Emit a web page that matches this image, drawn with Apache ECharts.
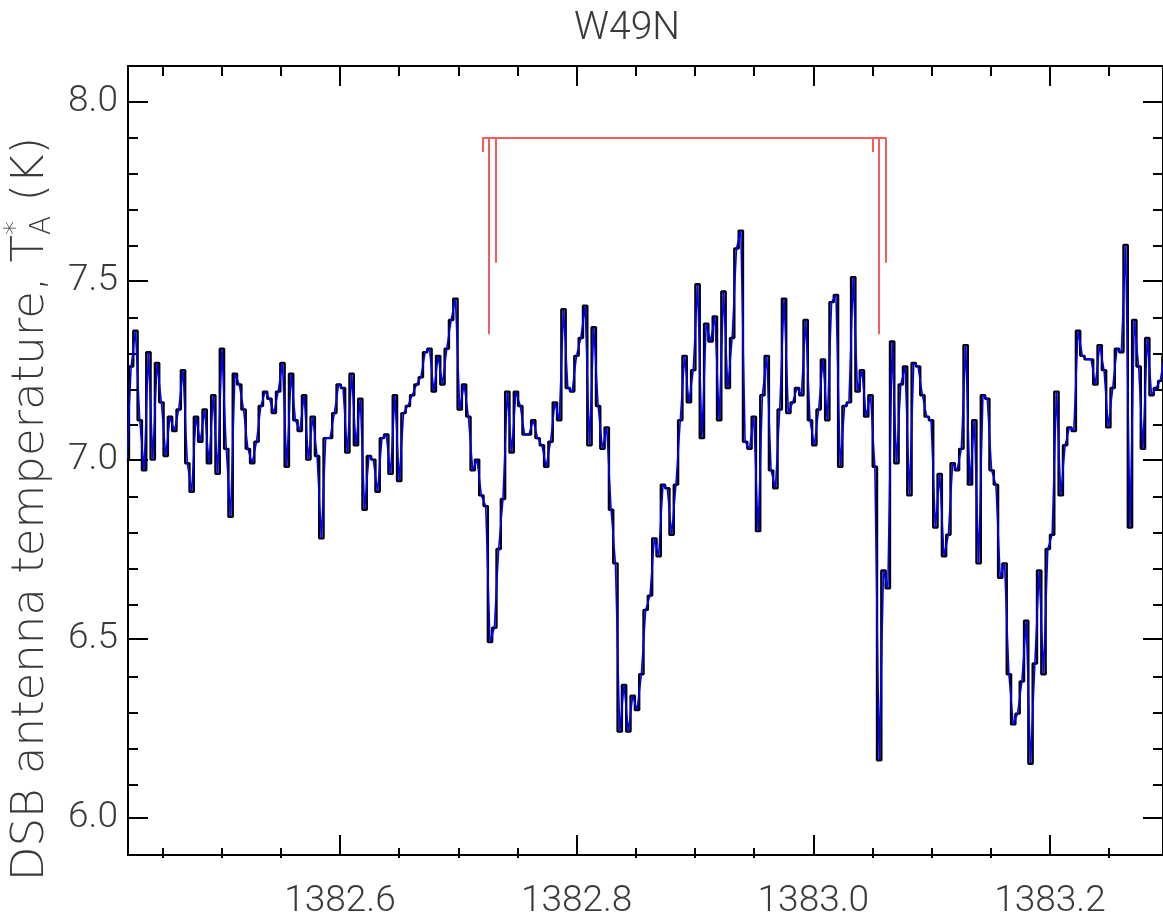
<!DOCTYPE html>
<html>
<head>
<meta charset="utf-8">
<title>W49N</title>
<script src="https://cdn.jsdelivr.net/npm/echarts@6/dist/echarts.min.js"></script>
<style>
  html, body { margin: 0; padding: 0; background: #ffffff; }
  #chart { width: 1163px; height: 920px; }
</style>
</head>
<body>
<div id="chart"></div>
<script>
// Spectrum: frequency of the first channel and channel spacing (GHz)
const freqStart = 1382.41983;
const chanWidth = 0.0036542;

// DSB antenna temperature per channel (K)
const temperature = [
  7.00, 7.26, 7.36, 7.11, 6.97, 7.30, 7.00, 7.27, 7.16, 7.01,
  7.12, 7.08, 7.14, 7.25, 6.99, 6.91, 7.12, 7.05, 7.14, 6.99,
  7.18, 6.96, 7.31, 7.03, 6.84, 7.24, 7.21, 7.14, 7.03, 6.99,
  7.05, 7.15, 7.19, 7.17, 7.13, 7.19, 7.27, 6.98, 7.24, 7.11,
  7.08, 7.18, 7.00, 7.12, 7.01, 6.78, 7.06, 7.06, 7.13, 7.21,
  7.20, 7.02, 7.24, 7.04, 7.17, 6.86, 7.01, 7.00, 6.91, 7.06,
  7.07, 6.96, 7.18, 6.94, 7.13, 7.15, 7.18, 7.21, 7.23, 7.30,
  7.31, 7.19, 7.29, 7.21, 7.31, 7.39, 7.45, 7.14, 7.21, 7.12,
  6.97, 7.00, 6.90, 6.87, 6.49, 6.53, 6.75, 6.89, 7.19, 7.02,
  7.19, 7.15, 7.07, 7.07, 7.11, 7.06, 7.04, 6.98, 7.05, 7.16,
  7.11, 7.42, 7.20, 7.19, 7.29, 7.34, 7.43, 7.04, 7.37, 7.15,
  7.03, 7.09, 6.86, 6.71, 6.24, 6.37, 6.24, 6.34, 6.30, 6.40,
  6.58, 6.62, 6.78, 6.73, 6.93, 6.92, 6.79, 6.93, 7.11, 7.29,
  7.16, 7.25, 7.49, 7.06, 7.38, 7.33, 7.40, 7.11, 7.47, 7.20,
  7.34, 7.59, 7.64, 7.05, 7.03, 7.12, 6.80, 7.18, 7.29, 6.97,
  6.92, 7.14, 7.45, 7.13, 7.16, 7.20, 7.18, 7.39, 7.11, 7.04,
  7.14, 7.28, 7.11, 7.44, 7.46, 6.98, 7.15, 7.16, 7.51, 7.19,
  7.25, 7.12, 7.18, 6.98, 6.16, 6.69, 6.64, 7.33, 6.99, 7.21,
  7.26, 6.90, 7.27, 7.26, 7.18, 7.12, 7.11, 6.81, 6.96, 6.73,
  6.79, 6.99, 6.97, 7.03, 7.32, 6.93, 7.11, 6.71, 7.18, 7.17,
  6.97, 6.93, 6.67, 6.71, 6.40, 6.26, 6.29, 6.38, 6.55, 6.15,
  6.43, 6.69, 6.40, 6.75, 6.79, 7.19, 6.90, 7.04, 7.09, 7.08,
  7.36, 7.29, 7.28, 7.28, 7.21, 7.32, 7.25, 7.09, 7.20, 7.31,
  7.30, 7.60, 6.81, 7.39, 7.26, 7.03, 7.34, 7.18, 7.20, 7.22,
  7.29
];

// Hyperfine components: rest frequencies (GHz) and where each marker ends (K)
const hfsFreq = [1382.7206, 1382.7253, 1382.7318, 1383.0502, 1383.0549, 1383.0614];
const hfsEnd = [7.86, 7.35, 7.55, 7.86, 7.35, 7.55];
const hfsBracket = 7.90;

// Axis ranges and tick values
const xRange = [1382.42084, 1383.29552];
const yRange = [5.895, 8.10];
const xMajorTicks = [1382.6, 1382.8, 1383.0, 1383.2];
const xMinorTicks = [1382.45, 1382.50, 1382.55, 1382.65, 1382.70, 1382.75,
                     1382.85, 1382.90, 1382.95, 1383.05, 1383.10, 1383.15, 1383.25];
const yMajorTicks = [6.0, 6.5, 7.0, 7.5, 8.0];
const yMinorTicks = [6.1, 6.2, 6.3, 6.4, 6.6, 6.7, 6.8, 6.9, 7.1, 7.2, 7.3, 7.4,
                     7.6, 7.7, 7.8, 7.9];

const titleText = 'W49N';
const yNameMain = 'DSB antenna temperature, T';
const yNameSub = 'A';
const yNameSup = '*';
const yNameEnd = ' (K)';

const TEXT_COLOR = '#3a3a3a';
const TICK_FONT = 'Roboto';
const NAME_FONT = 'DejaVu Sans';

const spectrum = temperature.map((t, i) => [freqStart + i * chanWidth, t]);

const markerLines = [{ coords: [[hfsFreq[0], hfsBracket], [hfsFreq[hfsFreq.length - 1], hfsBracket]] }];
hfsFreq.forEach((f, i) => markerLines.push({ coords: [[f, hfsBracket], [f, hfsEnd[i]]] }));

const frameLine = { show: true, onZero: false, lineStyle: { color: '#000', width: 2 } };
const tickStyle = { color: '#000', width: 2 };

function xAxisDef(gridIndex, position, ticks, len, withLine, withLabel) {
  return {
    type: 'value', gridIndex, position, min: xRange[0], max: xRange[1],
    axisLine: withLine ? frameLine : { show: false },
    axisTick: { show: true, inside: true, length: len, customValues: ticks, lineStyle: tickStyle },
    axisLabel: withLabel ? {
      show: true, customValues: ticks, margin: 28,
      formatter: v => Number(v).toFixed(1),
      fontFamily: TICK_FONT, fontWeight: 300, fontSize: 37, color: TEXT_COLOR
    } : { show: false },
    splitLine: { show: false }
  };
}
function yAxisDef(gridIndex, position, ticks, len, withLine, withLabel) {
  return {
    type: 'value', gridIndex, position, min: yRange[0], max: yRange[1],
    axisLine: withLine ? frameLine : { show: false },
    axisTick: { show: true, inside: true, length: len, customValues: ticks, lineStyle: tickStyle },
    axisLabel: withLabel ? {
      show: true, customValues: ticks, margin: 10,
      formatter: v => Number(v).toFixed(1),
      fontFamily: TICK_FONT, fontWeight: 300, fontSize: 37, color: TEXT_COLOR
    } : { show: false },
    splitLine: { show: false }
  };
}

const gridBox = { left: 128, top: 66, right: 0, bottom: 62, containLabel: false };

// Rotated y-axis title with a stacked sub/superscript after "T"
const NAME_SIZE = 45;
const SCRIPT_SIZE = 28;
const measure = document.createElement('canvas').getContext('2d');
function textWidth(str, size) {
  measure.font = '200 ' + size + 'px "' + NAME_FONT + '"';
  return measure.measureText(str).width;
}
const wMain = textWidth(yNameMain, NAME_SIZE);
const wScript = Math.max(textWidth(yNameSub, SCRIPT_SIZE), textWidth(yNameSup, SCRIPT_SIZE));
const wEnd = textWidth(yNameEnd, NAME_SIZE);
const wTotal = wMain + wScript + wEnd;
const x0 = -wTotal / 2;
const nameStyle = (text, size) => ({
  text, fontFamily: NAME_FONT, fontWeight: 200, fontSize: size, fill: TEXT_COLOR,
  align: 'left', verticalAlign: 'middle'
});

const chart = echarts.init(document.getElementById('chart'), null, { renderer: 'canvas' });
chart.setOption({
  animation: false,
  backgroundColor: '#ffffff',
  grid: [gridBox, Object.assign({}, gridBox)],
  xAxis: [
    xAxisDef(0, 'bottom', xMajorTicks, 20, true, true),
    xAxisDef(0, 'top', xMajorTicks, 20, true, false),
    xAxisDef(1, 'bottom', xMinorTicks, 10, false, false),
    xAxisDef(1, 'top', xMinorTicks, 10, false, false)
  ],
  yAxis: [
    yAxisDef(0, 'left', yMajorTicks, 20, true, true),
    yAxisDef(0, 'right', yMajorTicks, 20, true, false),
    yAxisDef(1, 'left', yMinorTicks, 10, false, false),
    yAxisDef(1, 'right', yMinorTicks, 10, false, false)
  ],
  graphic: [
    {
      type: 'text', x: 627, y: 29,
      style: {
        text: titleText, fontFamily: TICK_FONT, fontWeight: 300, fontSize: 39,
        fill: TEXT_COLOR, align: 'center', verticalAlign: 'middle'
      }
    },
    {
      type: 'group', x: 31, y: 509, rotation: Math.PI / 2,
      children: [
        { type: 'text', x: x0, y: 0, style: nameStyle(yNameMain, NAME_SIZE) },
        { type: 'text', x: x0 + wMain, y: 12, style: nameStyle(yNameSub, SCRIPT_SIZE) },
        { type: 'text', x: x0 + wMain, y: -14, style: nameStyle(yNameSup, SCRIPT_SIZE) },
        { type: 'text', x: x0 + wMain + wScript, y: 0, style: nameStyle(yNameEnd, NAME_SIZE) }
      ]
    }
  ],
  series: [
    {
      name: 'histogram', type: 'line', xAxisIndex: 0, yAxisIndex: 0,
      data: spectrum, step: 'middle', showSymbol: false, clip: true,
      lineStyle: { color: '#000000', width: 2.4 }, z: 2
    },
    {
      name: 'spectrum', type: 'line', xAxisIndex: 0, yAxisIndex: 0,
      data: spectrum, showSymbol: false, clip: true,
      lineStyle: { color: '#0000ff', width: 1.6 }, z: 3
    },
    {
      name: 'hyperfine', type: 'lines', coordinateSystem: 'cartesian2d',
      xAxisIndex: 0, yAxisIndex: 0, data: markerLines, polyline: false,
      lineStyle: { color: '#f25c5c', width: 2, opacity: 1 }, z: 4
    }
  ]
});
</script>
</body>
</html>
